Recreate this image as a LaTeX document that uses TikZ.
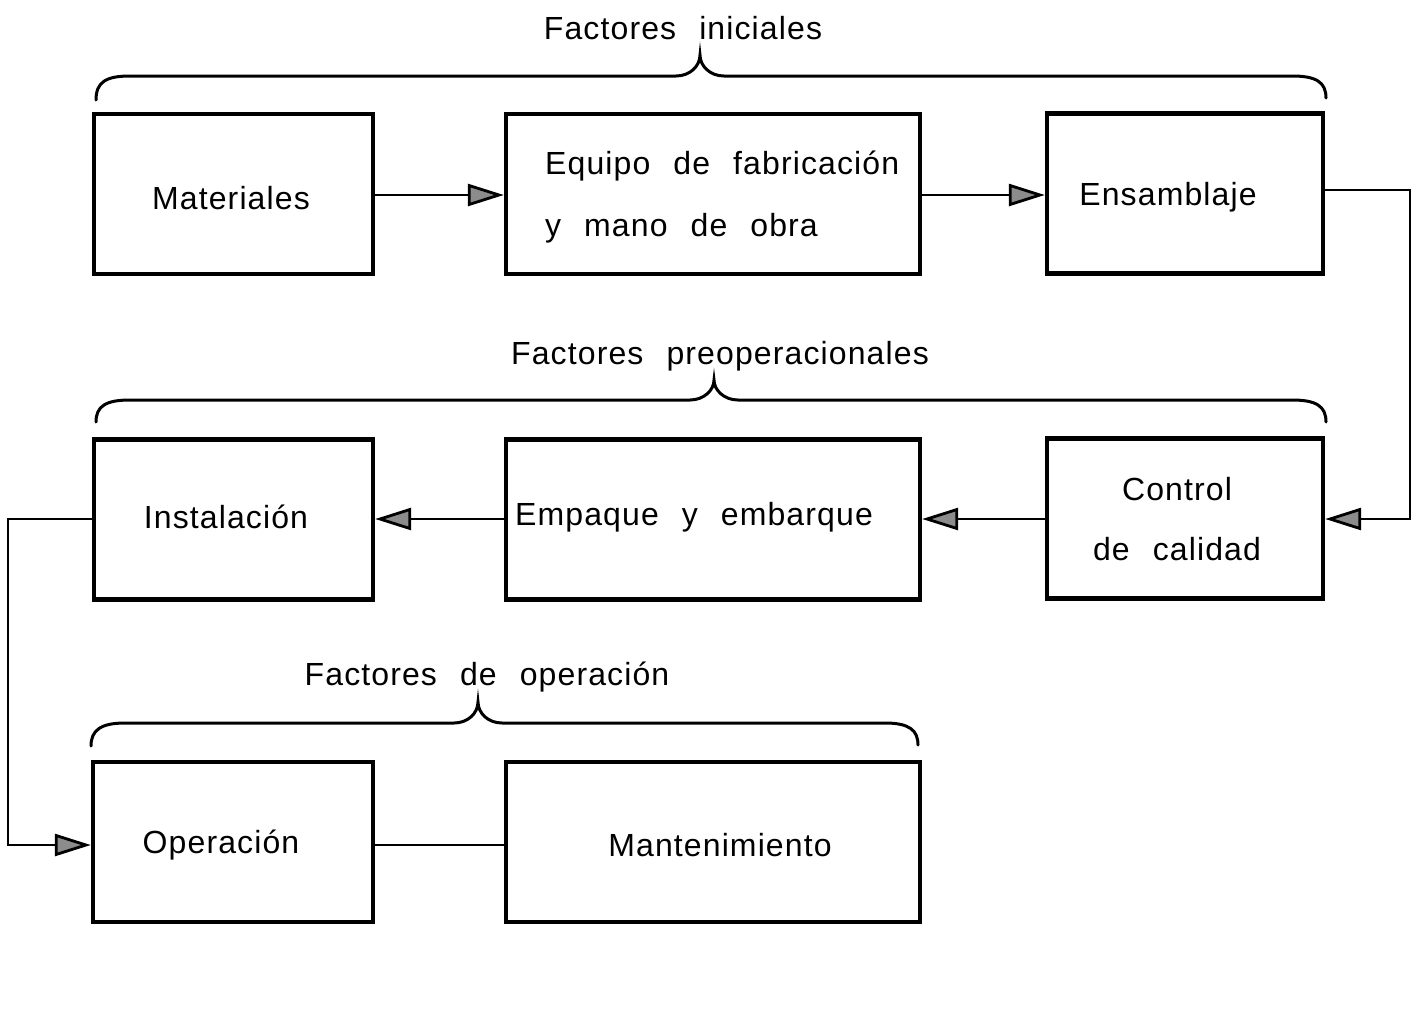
\documentclass[tikz,border=0pt]{standalone}
\usepackage{fontspec}
\setmainfont{Liberation Sans}[WordSpace=2.3,LetterSpace=3.5]
\usetikzlibrary{arrows.meta}
\begin{document}
\begin{tikzpicture}[x=1pt,y=-1pt,
  box/.style={draw,line width=4.4pt,inner sep=0pt,minimum width=#1,minimum height=160pt},
  box/.default=280pt,
  lbl/.style={inner sep=0pt,font=\fontsize{32}{60}\selectfont},
  conn/.style={line width=2.8pt},
  arr/.style={conn,-{Triangle[open,fill=black!45,length=36pt,width=22pt,line width=2.8pt]}},
  brace/.style={line width=3pt,line cap=round}]
\useasboundingbox (0,0) rectangle (1420,1026);
% boxes
\node[box=279pt] (mat) at (233.5,194) {};
\node[box=414pt] (equ) at (713,194) {};
\node[box=276pt] (ens) at (1185,193.5) {};
\node[box=279pt] (ins) at (233.5,519.5) {};
\node[box=414pt] (emp) at (713,519.5) {};
\node[box=276pt] (con) at (1185,518.5) {};
\node[box=280pt] (ope) at (233,842) {};
\node[box=414pt] (man) at (713,842) {};
% labels
\node[lbl] (matT) at (231,198) {Materiales};
\node[lbl,align=left,anchor=west] (equT) at (545,197) {Equipo de fabricación\\[2pt]y mano de obra};
\node[lbl] (ensT) at (1168,197) {Ensamblaje};
\node[lbl,align=center] (conT) at (1177,519) {Control\\[0pt]de calidad};
\node[lbl] (insT) at (226,517) {Instalación};
\node[lbl] (empT) at (694,517) {Empaque y embarque};
\node[lbl] (opeT) at (221,845) {Operación};
\node[lbl] (manT) at (720,845) {Mantenimiento};
\node[lbl] (t1) at (683,28) {Factores iniciales};
\node[lbl] (t2) at (720,356) {Factores preoperacionales};
\node[lbl] (t3) at (487,677) {Factores de operación};
% connectors
\draw[arr] (mat.east |- 0,195) -- (equ.west |- 0,195);
\draw[arr] (equ.east |- 0,195) -- (ens.west |- 0,195);
\coordinate (c1) at (1410,190);
\coordinate (c2) at (1410,519);
\draw[arr] (ens.east |- c1) -- (c1) -- (c2) -- (con.east |- c2);
\draw[arr] (con.west |- 0,519) -- (emp.east |- 0,519);
\draw[arr] (emp.west |- 0,519) -- (ins.east |- 0,519);
\coordinate (c3) at (8,519);
\coordinate (c4) at (8,845);
\draw[arr] (ins.west |- c3) -- (c3) -- (c4) -- (ope.west |- c4);
\draw[conn] (ope.east |- 0,845) -- (man.west |- 0,845);
% braces
\draw[brace] (96,100) .. controls (96,82) and (106,76) .. (130,76) -- (676,76)
  .. controls (690,76) and (700,66) .. (700,55)
  .. controls (700,66) and (710,76) .. (724,76) -- (1292,76)
  .. controls (1316,76) and (1326,82) .. (1326,98);
\draw[brace] (96,422) .. controls (96,406) and (106,400) .. (130,400) -- (690,400)
  .. controls (704,400) and (714,390) .. (714,380)
  .. controls (714,390) and (724,400) .. (738,400) -- (1292,400)
  .. controls (1316,400) and (1326,406) .. (1326,422);
\draw[brace] (91,746) .. controls (91,730) and (101,723) .. (125,723) -- (454,723)
  .. controls (468,723) and (478,713) .. (478,702)
  .. controls (478,713) and (488,723) .. (502,723) -- (885,723)
  .. controls (909,723) and (918,730) .. (918,745);
\end{tikzpicture}
\end{document}
